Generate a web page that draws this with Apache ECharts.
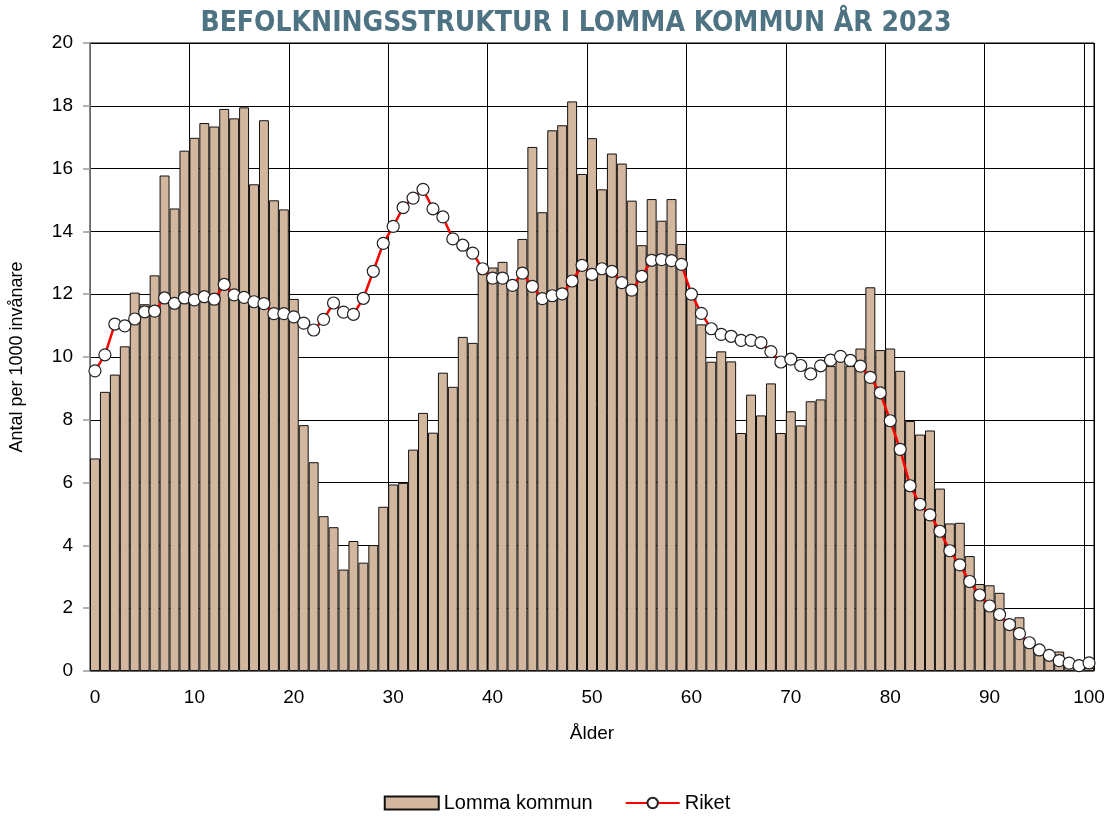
<!DOCTYPE html>
<html>
<head>
<meta charset="utf-8">
<script src="https://cdn.jsdelivr.net/npm/echarts@6/dist/echarts.min.js"></script>
<style>
  html,body {margin:0;padding:0;background:#fff;}
  #chart {width:1114px;height:816px;}
</style>
</head>
<body>
<div id="chart"></div>
<script>
// ålder 0-100
var ages = Array.from({length:101}, function(_, i){ return String(i); });

// Lomma kommun, antal per 1000 invånare
var lomma = [
  6.77, 8.89, 9.44, 10.34, 12.05, 11.68, 12.6, 15.78, 14.73, 16.57,
  16.98, 17.45, 17.34, 17.9, 17.6, 17.95, 15.5, 17.54, 14.99, 14.7,
  11.85, 7.83, 6.65, 4.93, 4.58, 3.23, 4.14, 3.45, 4.01, 5.23,
  5.94, 5.99, 7.05, 8.22, 7.59, 9.5, 9.05, 10.64, 10.45, 12.86,
  12.85, 13.03, 12.2, 13.76, 16.69, 14.61, 17.22, 17.38, 18.14, 15.83,
  16.97, 15.34, 16.48, 16.16, 14.98, 13.56, 15.03, 14.34, 15.03, 13.6,
  12.05, 11.04, 9.85, 10.18, 9.86, 7.58, 8.8, 8.14, 9.16, 7.58,
  8.27, 7.82, 8.59, 8.65, 9.71, 9.9, 9.71, 10.27, 12.22, 10.22,
  10.27, 9.56, 7.96, 7.53, 7.66, 5.81, 4.7, 4.72, 3.66, 2.77,
  2.73, 2.49, 1.45, 1.71, 0.95, 0.72, 0.5, 0.62, 0.3, 0.12,
  0.1
];

// Riket
var riket = [
  9.56, 10.07, 11.05, 10.99, 11.21, 11.44, 11.46, 11.88, 11.71, 11.88,
  11.82, 11.92, 11.84, 12.31, 11.98, 11.9, 11.76, 11.7, 11.38, 11.38,
  11.28, 11.08, 10.86, 11.2, 11.72, 11.43, 11.36, 11.87, 12.73, 13.62,
  14.16, 14.76, 15.06, 15.34, 14.72, 14.46, 13.76, 13.56, 13.31, 12.81,
  12.51, 12.51, 12.28, 12.67, 12.25, 11.86, 11.95, 12.01, 12.42, 12.92,
  12.63, 12.81, 12.73, 12.37, 12.13, 12.57, 13.08, 13.1, 13.07, 12.95,
  12.0, 11.39, 10.9, 10.72, 10.66, 10.53, 10.53, 10.46, 10.17, 9.84,
  9.93, 9.73, 9.46, 9.72, 9.9, 10.02, 9.89, 9.71, 9.35, 8.86,
  7.97, 7.06, 5.9, 5.31, 4.97, 4.45, 3.83, 3.38, 2.85, 2.42,
  2.07, 1.8, 1.48, 1.19, 0.9, 0.67, 0.5, 0.33, 0.25, 0.17,
  0.26
];

var seriesNames = ['Lomma kommun', 'Riket'];
var axisFont = "'Liberation Sans', Arial, sans-serif";

var myChart = echarts.init(document.getElementById('chart'));
var option = {
  animation: false,
  backgroundColor: '#fff',
  title: {
    text: 'BEFOLKNINGSSTRUKTUR I LOMMA KOMMUN ÅR 2023',
    left: 571,
    textAlign: 'center',
    top: 5,
    textStyle: {
      color: '#4E7383',
      fontSize: 28,
      fontWeight: 'bold',
      fontFamily: "'Liberation Sans Narrow', 'DejaVu Sans Condensed', sans-serif"
    }
  },
  grid: {
    left: 90,
    right: 20,
    top: 43,
    bottom: 145,
    show: true,
    borderColor: '#000',
    borderWidth: 1
  },
  legend: {
    bottom: -2,
    left: 'center',
    itemWidth: 54,
    itemHeight: 13,
    itemGap: 32,
    data: [{name: seriesNames[0], icon: 'rect'}, {name: seriesNames[1]}],
    textStyle: {fontSize: 20, color: '#000', fontFamily: axisFont}
  },
  xAxis: {
    type: 'category',
    data: ages,
    boundaryGap: true,
    name: 'Ålder',
    nameLocation: 'middle',
    nameGap: 53,
    nameTextStyle: {fontSize: 19, color: '#000', fontFamily: axisFont},
    axisLine: {lineStyle: {color: '#888', width: 1.5}},
    axisTick: {interval: 9, length: 7, lineStyle: {color: '#999', width: 1.5}},
    axisLabel: {interval: 9, fontSize: 19, color: '#000', margin: 17, fontFamily: axisFont},
    splitLine: {
      show: true,
      interval: function(index){ return index % 10 === 0; },
      lineStyle: {color: '#000', width: 1}
    }
  },
  yAxis: {
    type: 'value',
    min: 0,
    max: 20,
    interval: 2,
    name: 'Antal per 1000 invånare',
    nameLocation: 'middle',
    nameGap: 64,
    nameTextStyle: {fontSize: 18, color: '#000', fontFamily: axisFont},
    axisLine: {show: true, lineStyle: {color: '#888', width: 1.5}},
    axisTick: {show: true, length: 7, lineStyle: {color: '#999', width: 1.5}},
    axisLabel: {fontSize: 19, color: '#000', margin: 17, fontFamily: axisFont},
    splitLine: {lineStyle: {color: '#000', width: 1}}
  },
  series: [
    {
      name: seriesNames[0],
      type: 'bar',
      data: lomma,
      barCategoryGap: '0%',
      itemStyle: {color: '#D3B69E', borderColor: '#111', borderWidth: 1}
    },
    {
      name: seriesNames[1],
      type: 'line',
      data: riket,
      z: 5,
      symbol: 'circle',
      symbolSize: 12,
      showSymbol: true,
      showAllSymbol: true,
      lineStyle: {color: '#FF0000', width: 2.5},
      itemStyle: {color: '#fff', borderColor: '#222', borderWidth: 1.2}
    }
  ]
};
myChart.setOption(option);
</script>
</body>
</html>
